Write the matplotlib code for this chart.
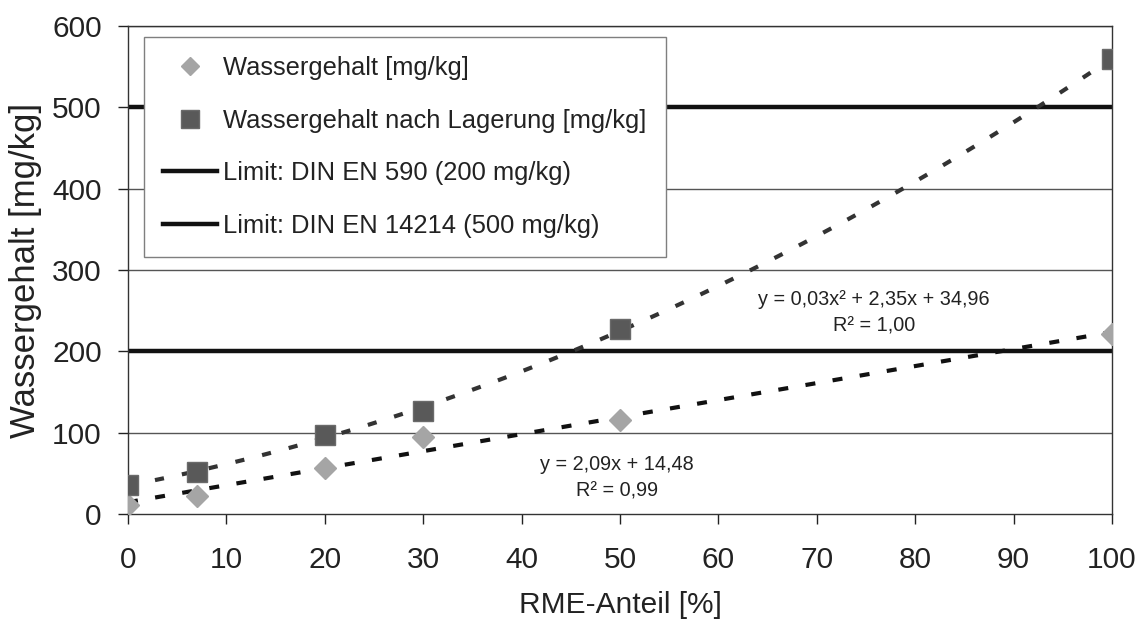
#!/usr/bin/env python3
"""Wassergehalt vs. RME-Anteil with trend lines and limit values."""

import matplotlib
matplotlib.use("Agg")
import matplotlib.pyplot as plt
import numpy as np

plt.rcParams["font.family"] = ["Liberation Sans", "DejaVu Sans"]

# data
rme_anteil = [0, 7, 20, 30, 50, 100]
wassergehalt = [11, 22, 56, 95, 115, 221]
wassergehalt_lagerung = [36, 51, 97, 127, 227, 560]

limit_din590 = 200
limit_din14214 = 500

eq_linear = "y = 2,09x + 14,48\nR² = 0,99"
eq_poly = "y = 0,03x² + 2,35x + 34,96\nR² = 1,00"


def main():
    fig = plt.figure(figsize=(11.42, 6.23), dpi=100)
    ax = fig.add_axes([0.1121, 0.1750, 0.8616, 0.7833])

    # gridlines
    for yv in range(100, 601, 100):
        ax.axhline(yv, color="#555555", lw=1.0, zorder=1)

    # limit lines
    l590 = ax.axhline(limit_din590, color="#111111", lw=3.2, zorder=2,
                      label="Limit: DIN EN 590 (200 mg/kg)")
    l14214 = ax.axhline(limit_din14214, color="#111111", lw=3.2, zorder=2,
                        label="Limit: DIN EN 14214 (500 mg/kg)")

    # trend lines (fitted from the data points)
    xs = np.linspace(0, 100, 200)
    lin = np.polyfit(rme_anteil, wassergehalt, 1)
    quad = np.polyfit(rme_anteil, wassergehalt_lagerung, 2)
    ax.plot(xs, np.polyval(lin, xs), color="#111111", lw=3.0,
            dashes=(2.4, 4.2), zorder=3)
    ax.plot(xs, np.polyval(quad, xs), color="#333333", lw=3.0,
            dashes=(2.2, 4.4), zorder=3)

    # data points
    d = ax.plot(rme_anteil, wassergehalt, linestyle="none", marker="D",
                ms=11, color="#a5a5a5", mec="#a5a5a5", zorder=4,
                label="Wassergehalt [mg/kg]")[0]
    s = ax.plot(rme_anteil, wassergehalt_lagerung, linestyle="none",
                marker="s", ms=15, color="#595959", mec="#6a6a6a", mew=1,
                zorder=4, label="Wassergehalt nach Lagerung [mg/kg]")[0]

    # trend equations
    ax.text(49.7, 44, eq_linear, ha="center", va="center", fontsize=14.3,
            color="#222222", linespacing=1.5)
    ax.text(75.8, 248, eq_poly, ha="center", va="center", fontsize=14.3,
            color="#222222", linespacing=1.5)

    ax.set_xlim(0, 100)
    ax.set_ylim(0, 600)
    ax.set_xticks(range(0, 101, 10))
    ax.set_yticks(range(0, 601, 100))
    ax.tick_params(axis="both", labelsize=21.5, colors="#222222",
                   length=7, width=1)
    ax.tick_params(axis="x", pad=16)
    ax.tick_params(axis="y", pad=12)
    for sp in ax.spines.values():
        sp.set_color("#333333")
        sp.set_linewidth(1.0)

    ax.set_xlabel("RME-Anteil [%]", fontsize=21.5, color="#222222",
                  labelpad=12)
    ax.set_ylabel("Wassergehalt [mg/kg]", fontsize=25, color="#222222",
                  labelpad=7)

    leg = ax.legend(handles=[d, s, l590, l14214], loc="upper left",
                    bbox_to_anchor=(144 / 1142, 1 - 37 / 623),
                    bbox_transform=fig.transFigure, borderaxespad=0,
                    fontsize=18.4, fancybox=False, framealpha=1,
                    edgecolor="#7f7f7f", labelspacing=1.12,
                    handlelength=2.1, handletextpad=0.25, borderpad=0.75,
                    markerscale=0.85)
    leg.get_frame().set_linewidth(1.0)
    for t in leg.get_texts():
        t.set_color("#222222")

    fig.savefig("out.png", dpi=100)


if __name__ == "__main__":
    main()
